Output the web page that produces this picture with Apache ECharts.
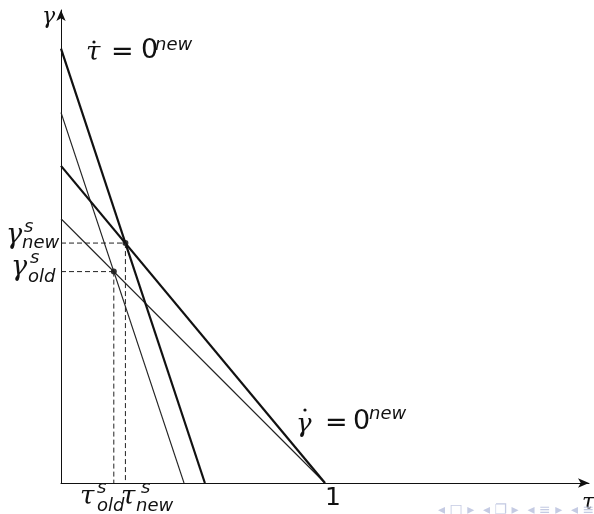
<!DOCTYPE html>
<html>
<head>
<meta charset="utf-8">
<script src="https://cdn.jsdelivr.net/npm/echarts@6/dist/echarts.min.js"></script>
<style>html,body{margin:0;padding:0;background:#fff}#c{width:594px;height:514px}</style>
</head>
<body>
<div id="c"></div>
<script>
// Data (tau on x, gamma on y)
const tauDotNew = [[0, 1.644], [0.545, 0]];   // thick
const tauDotOld = [[0, 1.402], [0.466, 0]];   // thin
const gammaDotNew = [[0, 1.2], [1, 0]];       // thick
const gammaDotOld = [[0, 1.0], [1, 0]];       // thin
const steadyNew = [0.244, 0.908];
const steadyOld = [0.2, 0.8];
const xTickValues = [1];
const xTickLabels = ['1'];

const chart = echarts.init(document.getElementById('c'), null, {renderer: 'canvas'});

const greek = '"DejaVu Serif", serif';
const sans = '"DejaVu Sans", sans-serif';

function T(text, x, y, size, font, italic) {
  return {
    type: 'text', x: x, y: y, silent: true,
    style: {
      text: text, fill: '#111',
      font: (italic ? 'italic ' : '') + size + 'px ' + font,
      textAlign: 'left', textVerticalAlign: 'middle'
    }
  };
}
function Dot(x, y) {
  return {type: 'circle', silent: true, shape: {cx: x, cy: y, r: 1.6}, style: {fill: '#111'}};
}

const thin = {color: '#222', width: 1.1};
const thick = {color: '#111', width: 2.2};
const dash = {color: '#222', width: 1, type: [5, 3]};

chart.setOption({
  animation: false,
  grid: {left: 61, top: 10, width: 528, height: 473},
  xAxis: {
    type: 'value', min: 0, max: 2,
    axisLine: {show: true, symbol: ['none', 'arrow'], symbolSize: [7, 11], lineStyle: {color: '#111', width: 1}},
    axisTick: {show: false},
    splitLine: {show: false},
    axisLabel: {
      show: true, customValues: xTickValues,
      formatter: v => xTickLabels[xTickValues.indexOf(v)] || '',
      color: '#111', fontSize: 25, fontFamily: sans, margin: 3, align: 'left'
    }
  },
  yAxis: {
    type: 'value', min: 0, max: 1.79,
    axisLine: {show: true, symbol: ['none', 'arrow'], symbolSize: [7, 11], lineStyle: {color: '#111', width: 1}},
    axisTick: {show: false},
    splitLine: {show: false},
    axisLabel: {show: false}
  },
  series: [
    {type: 'line', data: tauDotOld, symbol: 'none', lineStyle: thin},
    {type: 'line', data: gammaDotOld, symbol: 'none', lineStyle: thin},
    {type: 'line', data: tauDotNew, symbol: 'none', lineStyle: thick},
    {type: 'line', data: gammaDotNew, symbol: 'none', lineStyle: thick},
    {type: 'line', data: [[0, steadyNew[1]], steadyNew], symbol: 'none', lineStyle: dash},
    {type: 'line', data: [steadyNew, [steadyNew[0], 0]], symbol: 'none', lineStyle: dash},
    {type: 'line', data: [[0, steadyOld[1]], steadyOld], symbol: 'none', lineStyle: dash},
    {type: 'line', data: [steadyOld, [steadyOld[0], 0]], symbol: 'none', lineStyle: dash},
    {type: 'scatter', data: [steadyNew, steadyOld], symbol: 'circle', symbolSize: 6, itemStyle: {color: '#000'}}
  ],
  graphic: [
    // axis names
    T('γ', 42, 17, 22, greek, true),
    T('τ', 582, 503, 22, greek, true),
    // tau dot = 0^new
    T('τ', 86, 53, 26, greek, true),
    Dot(94, 42),
    T('=', 111, 53, 27, sans, false),
    T('0', 141, 51, 27, sans, false),
    T('new', 155, 45, 18, sans, true),
    // gamma dot = 0^new
    T('γ', 296, 425, 26, greek, true),
    Dot(305, 410),
    T('=', 325, 424, 27, sans, false),
    T('0', 353, 422, 27, sans, false),
    T('new', 369, 414, 18, sans, true),
    // gamma_new^s
    T('γ', 6, 236, 27, greek, true),
    T('s', 24, 227, 18, sans, true),
    T('new', 22, 243, 18, sans, true),
    // gamma_old^s
    T('γ', 11, 268, 27, greek, true),
    T('s', 30, 258, 18, sans, true),
    T('old', 28, 277, 18, sans, true),
    // tau_old^s
    T('τ', 80, 497, 26, greek, true),
    T('s', 97, 488, 18, sans, true),
    T('old', 97, 506, 18, sans, true),
    // tau_new^s
    T('τ', 121, 497, 26, greek, true),
    T('s', 141, 488, 18, sans, true),
    T('new', 136, 506, 18, sans, true),
    // beamer navigation symbols
    {type: 'text', x: 438, y: 510, silent: true,
     style: {text: '◂ □ ▸  ◂ ❐ ▸  ◂ ≡ ▸  ◂ ≡', fill: '#c5cbe3', font: '14px ' + sans, textVerticalAlign: 'middle'}}
  ]
});
</script>
</body>
</html>
